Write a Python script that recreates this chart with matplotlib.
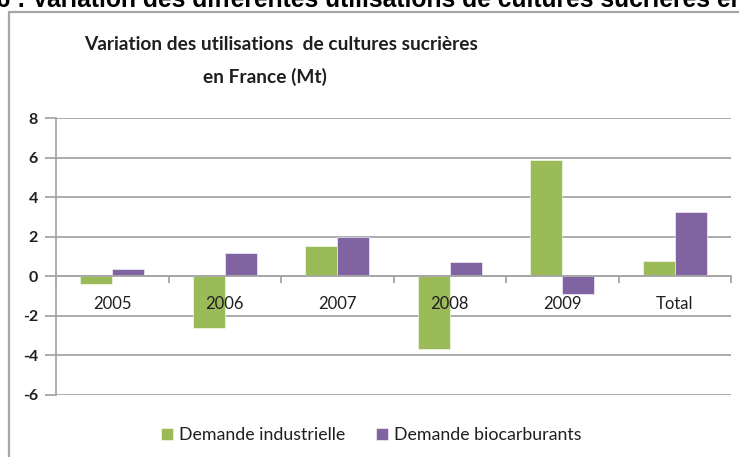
import numpy as np
import matplotlib.pyplot as plt
from matplotlib.patches import Rectangle

plt.rcParams['axes.unicode_minus'] = False

# Data (Mt)
categories = ['2005', '2006', '2007', '2008', '2009', 'Total']
demande_industrielle = [-0.4, -2.6, 1.55, -3.7, 5.9, 0.78]
demande_biocarburants = [0.35, 1.2, 2.0, 0.7, -0.9, 3.25]
y_ticks = [-6, -4, -2, 0, 2, 4, 6, 8]

W, H = 739, 457
GREEN = '#9bbb59'
PURPLE = '#8064a2'
GRID = '#a6a6a6'
TXT = '#1f1f1f'

fig = plt.figure(figsize=(W / 100, H / 100), dpi=100)

def px(x, y):
    # pixel coords (from top-left) to figure fraction
    return x / W, 1 - y / H

# clipped header line of the surrounding document
fig.text(*px(25, 7), "e 6 :", fontsize=17.7, fontweight='bold',
         family='Liberation Sans', color='black', ha='right', va='baseline')
fig.text(*px(32, 7), "Variation des différentes utilisations de cultures sucrières en France",
         fontsize=17.7, fontweight='bold', family='Liberation Sans', color='black',
         ha='left', va='baseline')

# chart frame
fig.patches.append(Rectangle(px(9, 470), (W + 20) / W, (470 - 12) / H,
                             transform=fig.transFigure, fill=False,
                             edgecolor=GRID, linewidth=1.6))

# title
fig.text(*px(281, 44), "Variation des utilisations  de cultures sucrières",
         fontsize=13.8, fontweight='bold', family='Lato', color=TXT,
         ha='center', va='center')
fig.text(*px(265, 77), "en France (Mt)",
         fontsize=13.8, fontweight='bold', family='Lato', color=TXT,
         ha='center', va='center')

ax = fig.add_axes([56 / W, (H - 395) / H, 675 / W, 277 / H])

x = np.arange(len(categories))
w = 0.285
ax.bar(x - w / 2, demande_industrielle, w, color=GREEN, edgecolor='white',
       linewidth=0.4, label='Demande industrielle', zorder=3)
ax.bar(x + w / 2, demande_biocarburants, w, color=PURPLE, edgecolor='white',
       linewidth=0.4, label='Demande biocarburants', zorder=3)

ax.set_xlim(-0.5, len(categories) - 0.5)
ax.set_ylim(-6, 8)
ax.set_yticks(y_ticks)
ax.yaxis.grid(True, color=GRID, linewidth=1.3)
ax.set_axisbelow(True)
ax.xaxis.set_zorder(5)  # year labels sit on top of the bars

for s in ['top', 'right']:
    ax.spines[s].set_visible(False)
ax.spines['left'].set_color(GRID)
ax.spines['left'].set_linewidth(1.3)
ax.spines['bottom'].set_position(('data', 0))
ax.spines['bottom'].set_color(GRID)
ax.spines['bottom'].set_linewidth(1.3)
ax.spines['bottom'].set_zorder(4)

ax.set_xticks(x)
ax.set_xticklabels(categories, fontsize=12, family='Lato', color=TXT)
ax.set_xticks(np.arange(len(categories) + 1) - 0.5, minor=True)
ax.tick_params(axis='x', which='major', length=0, pad=14)
ax.tick_params(axis='x', which='minor', length=5, width=1.3, color=GRID, direction='out')
ax.tick_params(axis='y', length=8, width=1.3, color=GRID, pad=5,
               labelsize=11.5, labelcolor=TXT)
for lab in ax.get_yticklabels():
    lab.set_family('Lato')
    lab.set_fontweight('bold')

leg = fig.legend(loc='center', bbox_to_anchor=px(371, 435), ncol=2, frameon=False,
                 prop={'family': 'Lato', 'size': 12.8}, handlelength=0.7,
                 handleheight=0.7, handletextpad=0.3, columnspacing=1.75)
for t in leg.get_texts():
    t.set_color(TXT)

fig.savefig('out.png', dpi=100)
